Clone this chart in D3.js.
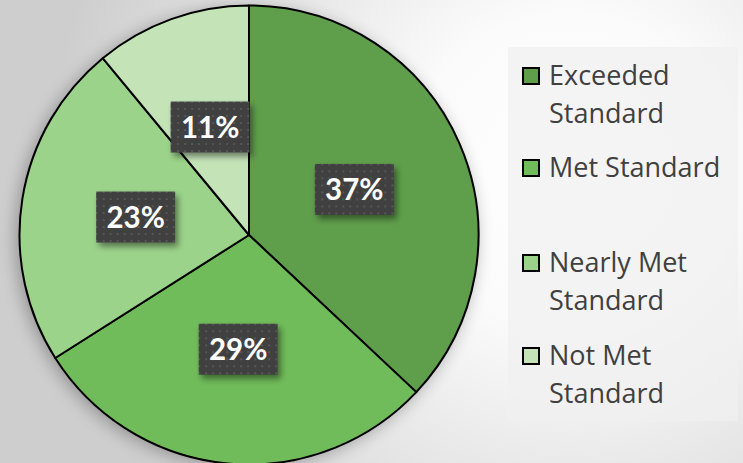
<!DOCTYPE html>
<html>
<head>
<meta charset="utf-8">
<script src="https://cdn.jsdelivr.net/npm/d3@7"></script>
<style>
  html, body { margin: 0; padding: 0; background: #fff; }
  svg { display: block; }
</style>
</head>
<body>
<svg id="chart" width="743" height="463"></svg>
<script>
// Share of students by performance level
const categories = ["Exceeded Standard", "Met Standard", "Nearly Met Standard", "Not Met Standard"];
const values = [37, 29, 23, 11];
const valueLabels = ["37%", "29%", "23%", "11%"];
const legendLines = [["Exceeded", "Standard"], ["Met Standard"], ["Nearly Met", "Standard"], ["Not Met", "Standard"]];
const colors = ["#5f9e4b", "#70bb5a", "#9bd38a", "#c4e4b8"];

const W = 743, H = 463;
const svg = d3.select("#chart");
const defs = svg.append("defs");

// backdrop gradient
const bg = defs.append("radialGradient").attr("id", "bg")
  .attr("gradientUnits", "userSpaceOnUse")
  .attr("cx", 570).attr("cy", 170).attr("r", 520);
bg.append("stop").attr("offset", "0").attr("stop-color", "#ffffff");
bg.append("stop").attr("offset", "0.3").attr("stop-color", "#fbfbfb");
bg.append("stop").attr("offset", "1").attr("stop-color", "#cecece");
svg.append("rect").attr("width", W).attr("height", H).attr("fill", "url(#bg)");

// soft shadow under the pie
const pieShadow = defs.append("filter").attr("id", "pieShadow")
  .attr("x", "-20%").attr("y", "-20%").attr("width", "140%").attr("height", "140%");
pieShadow.append("feGaussianBlur").attr("in", "SourceAlpha").attr("stdDeviation", 9);
pieShadow.append("feOffset").attr("dx", -3).attr("dy", 3).attr("result", "b");
pieShadow.append("feComponentTransfer").append("feFuncA").attr("type", "linear").attr("slope", 0.32);

// shadow under the value labels
const boxShadow = defs.append("filter").attr("id", "boxShadow")
  .attr("x", "-30%").attr("y", "-30%").attr("width", "160%").attr("height", "160%");
boxShadow.append("feGaussianBlur").attr("in", "SourceAlpha").attr("stdDeviation", 3).attr("result", "blur");
boxShadow.append("feOffset").attr("in", "blur").attr("dx", 3).attr("dy", 4).attr("result", "off");
boxShadow.append("feComponentTransfer").attr("in", "off").attr("result", "sh")
  .append("feFuncA").attr("type", "linear").attr("slope", 0.45);
const merge = boxShadow.append("feMerge");
merge.append("feMergeNode").attr("in", "sh");
merge.append("feMergeNode").attr("in", "SourceGraphic");

// dotted texture for label boxes
const pat = defs.append("pattern").attr("id", "dots")
  .attr("patternUnits", "userSpaceOnUse").attr("width", 7).attr("height", 7);
pat.append("rect").attr("width", 7).attr("height", 7).attr("fill", "#3f3f3f");
pat.append("rect").attr("x", 2).attr("y", 2).attr("width", 2).attr("height", 2).attr("fill", "#575757");

// pie
const cx = 249, cy = 235, R = 229.5;
const pie = d3.pie().sort(null).value(d => d)(values);
const arc = d3.arc().innerRadius(0).outerRadius(R);
const labelArc = d3.arc().innerRadius(R * 0.5).outerRadius(R * 0.5);

const g = svg.append("g").attr("transform", `translate(${cx},${cy})`);
g.append("circle").attr("r", R).attr("fill", "#000").attr("filter", "url(#pieShadow)");
g.selectAll("path.slice").data(pie).join("path")
  .attr("class", "slice")
  .attr("d", arc)
  .attr("fill", (d, i) => colors[i])
  .attr("stroke", "#000")
  .attr("stroke-width", 2)
  .attr("stroke-linejoin", "round");

// value labels
const bw = 79, bh = 51;
const lab = g.selectAll("g.lab").data(pie).join("g")
  .attr("class", "lab")
  .attr("transform", d => { const [x, y] = labelArc.centroid(d); return `translate(${x},${y})`; });
lab.append("rect")
  .attr("x", -bw / 2).attr("y", -bh / 2).attr("width", bw).attr("height", bh)
  .attr("fill", "url(#dots)")
  .attr("filter", "url(#boxShadow)");
lab.append("text")
  .attr("text-anchor", "middle")
  .attr("dy", "0.36em")
  .attr("font-family", "Lato, 'Open Sans', sans-serif")
  .attr("font-weight", "bold")
  .attr("font-size", 29.5)
  .attr("fill", "#ffffff")
  .text((d, i) => valueLabels[i]);

// legend
svg.append("rect")
  .attr("x", 508).attr("y", 47).attr("width", 230).attr("height", 374)
  .attr("fill", "#f0f0f0").attr("fill-opacity", 0.72);

const legendTop = [85, 177, 272, 365];
const lineGap = 38;
const leg = svg.append("g").selectAll("g").data(categories).join("g")
  .attr("transform", (d, i) => `translate(0,${legendTop[i]})`);
leg.append("rect")
  .attr("x", 523).attr("y", -17).attr("width", 16).attr("height", 16)
  .attr("fill", (d, i) => colors[i])
  .attr("stroke", "#000").attr("stroke-width", 2);
leg.append("text")
  .attr("x", 549)
  .attr("font-family", "'Open Sans', Lato, sans-serif")
  .attr("font-size", 27)
  .attr("fill", "#404040")
  .selectAll("tspan").data((d, i) => legendLines[i]).join("tspan")
  .attr("x", 549)
  .attr("y", (d, j) => j * lineGap)
  .text(d => d);
</script>
</body>
</html>
